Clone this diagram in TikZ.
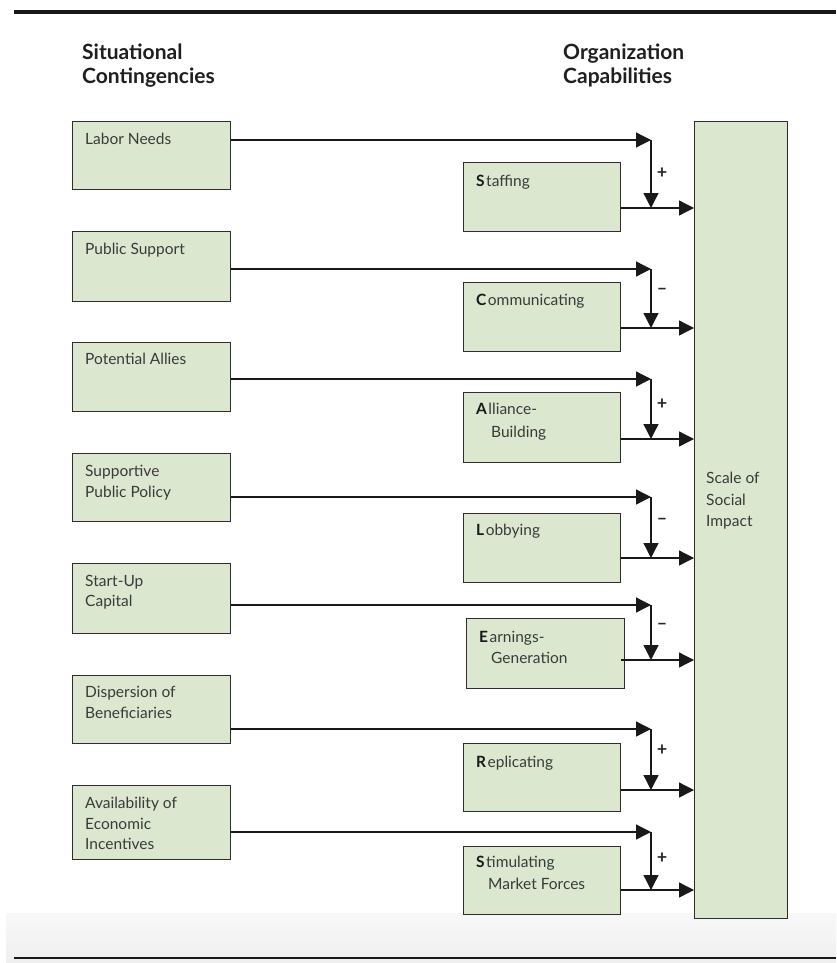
\documentclass[tikz,border=0pt]{standalone}
\usepackage{fontspec}
\setmainfont{Lato}
\usetikzlibrary{arrows.meta,calc}
\definecolor{boxfill}{HTML}{DCE7CF}
\definecolor{boxline}{HTML}{2E2E2E}
\definecolor{txtc}{HTML}{3A3A3A}
\definecolor{bandtop}{HTML}{F8F8F8}
\definecolor{bandbot}{HTML}{EFEFEF}
\begin{document}
\begin{tikzpicture}[x=1pt,y=-1pt,
  box/.style={draw=boxline,fill=boxfill,line width=1.3pt,anchor=north west,inner sep=0pt,minimum width=158pt,minimum height=68pt},
  txt/.style={anchor=north west,inner sep=0pt,align=left,text=txtc,font=\fontsize{15.5}{20.5}\selectfont},
  hdr/.style={anchor=north west,inner sep=0pt,align=left,text=black!88,font=\fontsize{21}{24}\selectfont\bfseries},
  sgn/.style={inner sep=0pt,font=\fontsize{18}{18}\selectfont\bfseries,text=black!85},
  arr/.style={draw=black!90,line width=1.3pt,-{Triangle[length=15pt,width=15pt]}},
]
\useasboundingbox (0,0) rectangle (836,963);
% bottom band
\shade[top color=bandtop,bottom color=bandbot] (6,913) rectangle (836,963);
\draw[line width=4.5pt,black!90] (14,12) -- (836,12);
\draw[line width=2pt,black!90] (14,958) -- (836,958);
% headers
\node[hdr] (h1) at (82,44) {Situational\\Contingencies};
\node[hdr] (h2) at (563,44) {Organization\\Capabilities};
% big box
\node[box,minimum width=93pt,minimum height=797pt] (B) at (694,121) {};
\node[txt,font=\fontsize{15.5}{21.5}\selectfont] (Bt) at (706,472) {Scale of\\Social\\Impact};
% left boxes
\node[box] (L1) at (72,121) {};
\node[box,minimum height=70pt] (L2) at (72,231) {};
\node[box,minimum height=69pt] (L3) at (72,342) {};
\node[box] (L4) at (72,453) {};
\node[box,minimum height=70pt] (L5) at (72,563) {};
\node[box] (L6) at (72,675) {};
\node[box,minimum height=74pt] (L7) at (72,785) {};
\node[txt] (L1t) at (85,133) {Labor Needs};
\node[txt] (L2t) at (85,243) {Public Support};
\node[txt] (L3t) at (85,353) {Potential Allies};
\node[txt] (L4t) at (85,465) {Supportive\\Public Policy};
\node[txt] (L5t) at (85,575) {Start-Up\\Capital};
\node[txt] (L6t) at (85,686) {Dispersion of\\Beneficiaries};
\node[txt] (L7t) at (85,797) {Availability of\\Economic\\Incentives};
% middle boxes
\node[box,minimum width=157pt,minimum height=69pt] (M1) at (463,162) {};
\node[box,minimum width=157pt,minimum height=69pt] (M2) at (463,282) {};
\node[box,minimum width=157pt,minimum height=70pt] (M3) at (463,392) {};
\node[box,minimum width=157pt,minimum height=69pt] (M4) at (463,513) {};
\node[box,minimum width=158pt,minimum height=70pt] (M5) at (466,618) {};
\node[box,minimum width=157pt,minimum height=68pt] (M6) at (463,743) {};
\node[box,minimum width=157pt,minimum height=68pt] (M7) at (463,846) {};
\newcommand{\bi}[1]{{\bfseries\color{black!90}#1}\kern1.5pt}
\node[txt] (M1t) at (476,175) {\bi{S}taffing};
\node[txt] (M2t) at (476,294) {\bi{C}ommunicating};
\node[txt,font=\fontsize{15.5}{23}\selectfont] (M3t) at (476,403) {\bi{A}lliance-\\\hspace*{15pt}Building};
\node[txt] (M4t) at (476,524) {\bi{L}obbying};
\node[txt,font=\fontsize{15.5}{21}\selectfont] (M5t) at (479,631) {\bi{E}arnings-\\\hspace*{12pt}Generation};
\node[txt] (M6t) at (476,756) {\bi{R}eplicating};
\node[txt,font=\fontsize{15.5}{22}\selectfont] (M7t) at (476,856) {\bi{S}timulating\\\hspace*{12pt}Market Forces};
% junction coordinates
\coordinate (J1) at (651,140); \coordinate (K1) at (651,208);
\coordinate (J2) at (651,269); \coordinate (K2) at (651,328);
\coordinate (J3) at (651,379); \coordinate (K3) at (651,439);
\coordinate (J4) at (651,497); \coordinate (K4) at (651,558);
\coordinate (J5) at (651,605); \coordinate (K5) at (651,660);
\coordinate (J6) at (651,729); \coordinate (K6) at (651,790);
\coordinate (J7) at (651,832); \coordinate (K7) at (651,890);
\foreach \i in {1,...,7}{
  \draw[arr] (L\i.east |- J\i) -- (J\i);
  \draw[arr] (J\i) -- (K\i);
}
\foreach \i in {1,2,3,4,6,7}{
  \draw[arr] (M\i.east |- K\i) -- (B.west |- K\i);
}
\draw[arr] ([xshift=-4pt]M5.east |- K5) -- (B.west |- K5);
% signs
\node[sgn] (s1) at (662,173) {+};
\node[sgn] (s2) at (662,291) {--};
\node[sgn] (s3) at (662,404) {+};
\node[sgn] (s4) at (662,521) {--};
\node[sgn] (s5) at (662,626) {--};
\node[sgn] (s6) at (662,750) {+};
\node[sgn] (s7) at (662,858) {+};
\end{tikzpicture}
\end{document}
